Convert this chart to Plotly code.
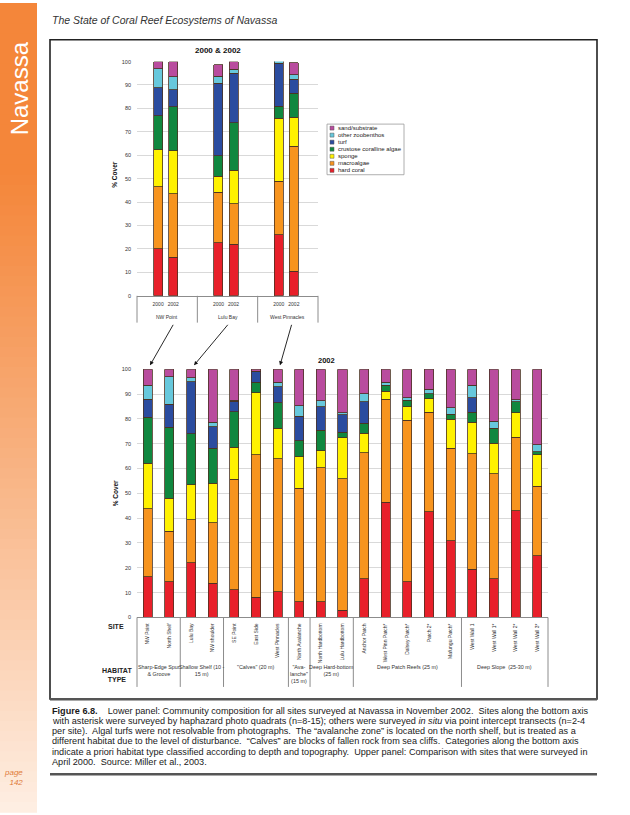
import plotly.graph_objects as go

W, H = 630, 815

# ---------------- data ----------------
categories = ["hard coral", "macroalgae", "sponge", "crustose coralline algae",
              "turf", "other zoobenthos", "sand/substrate"]
cat_colors = ["#E8202A", "#F7941E", "#FFF100", "#10873F", "#2B4C9F", "#67C8DC", "#B94C9E"]

# upper panel (2000 & 2002)
top_groups = ["NW Point", "Lulu Bay", "West Pinnacles"]
top_years = ["2000", "2002"]
# order: NW2000, NW2002, LB2000, LB2002, WP2000, WP2002
top_hard_coral = [20.0, 16.4, 22.7, 22.0, 26.0, 10.5]
top_macroalgae = [26.5, 27.2, 21.5, 17.2, 22.9, 53.4]
top_sponge = [15.8, 18.4, 6.9, 14.3, 27.0, 12.3]
top_cca = [14.6, 18.7, 8.7, 20.4, 5.1, 10.2]
top_turf = [12.0, 7.3, 31.0, 21.1, 18.2, 6.1]
top_other = [8.0, 5.5, 3.0, 1.7, 1.3, 1.8]
top_sand = [3.1, 6.5, 4.9, 3.3, 0.0, 5.3]

# lower panel (2002)
sites = ["NW Point", "North Shelf", "Lulu Bay", "NW shoulder", "SE Point", "East Side",
         "West Pinnacles", "North Avalanche", "North Hardbottom", "Lulu Hardbottom",
         "Anchor Patch", "West Pinn Patch*", "Dalsey Patch*", "Patch 2*", "Mafungu Patch*",
         "West Wall 1", "West Wall 1*", "West Wall 2*", "West Wall 3*"]
hard_coral = [16.4, 14.3, 22.0, 13.8, 11.2, 8.2, 10.4, 6.3, 6.3, 2.9, 15.5, 46.4, 14.4, 42.5, 31.0, 19.4, 15.6, 43.0, 24.9]
macroalgae = [27.5, 20.5, 17.3, 24.4, 44.4, 57.3, 53.5, 45.8, 54.1, 53.0, 50.9, 41.6, 65.1, 40.1, 37.2, 46.5, 42.3, 29.7, 28.0]
sponge = [18.3, 13.3, 14.2, 15.9, 13.0, 25.0, 12.3, 12.7, 6.7, 16.6, 7.8, 3.2, 5.4, 5.6, 11.6, 12.7, 12.3, 9.8, 12.6]
cca = [18.4, 28.5, 20.5, 14.1, 14.3, 4.2, 10.4, 6.5, 8.4, 2.1, 4.0, 2.4, 2.7, 2.0, 2.0, 4.0, 6.0, 4.4, 1.3]
turf = [7.4, 9.4, 21.0, 8.7, 4.3, 4.5, 6.3, 9.8, 9.4, 7.0, 8.7, 0, 0, 0, 0, 5.9, 0, 0, 0]
other_zoobenthos = [5.6, 11.0, 1.5, 1.8, 0.4, 0.1, 1.8, 4.2, 2.4, 0.9, 3.3, 1.1, 1.0, 1.8, 2.8, 5.1, 2.9, 0.9, 2.7]
sand = [6.4, 3.0, 3.5, 21.3, 12.4, 0.7, 5.3, 14.7, 12.7, 17.5, 9.8, 5.3, 11.4, 8.0, 15.4, 6.4, 20.9, 12.2, 30.5]

habitat_labels = ["Sharp-Edge Spur<br>&amp; Groove", "Shallow Shelf (10 -<br>15 m)", "\"Calves\" (20 m)",
                  "\"Ava-<br>lanche\"<br>(15 m)", "Deep Hard-bottom<br>(25 m)",
                  "Deep Patch Reefs (25 m)", "Deep Slope\u00a0 (25-30 m)"]
habitat_sizes = [2, 2, 3, 1, 2, 5, 4]

y_ticks = list(range(0, 101, 10))

caption_lines = [
    "<b>Figure 6.8.</b>\u00a0\u00a0\u00a0 Lower panel: Community composition for all sites surveyed at Navassa in November 2002.\u00a0 Sites along the bottom axis",
    "with asterisk were surveyed by haphazard photo quadrats (n=8-15); others were surveyed <i>in situ</i> via point intercept transects (n=2-4",
    "per site).\u00a0 Algal turfs were not resolvable from photographs.\u00a0 The \u201cavalanche zone\u201d is located on the north shelf, but is treated as a",
    "different habitat due to the level of disturbance.\u00a0 \u201cCalves\u201d are blocks of fallen rock from sea cliffs.\u00a0 Categories along the bottom axis",
    "indicate a priori habitat type classified according to depth and topography.\u00a0 Upper panel: Comparison with sites that were surveyed in",
    "April 2000.\u00a0 Source: Miller et al., 2003.",
]

# ---------------- helpers ----------------
def px(x):
    return x / W

def py(y):
    return 1 - y / H

FONT = "Liberation Sans, Arial, sans-serif"
OUT = "#4a3222"

def text(t, x, y, size, color="#222", xa="center", ya="middle", **kw):
    d = dict(text=t, xref="paper", yref="paper", x=px(x), y=py(y), xanchor=xa, yanchor=ya,
             showarrow=False, font=dict(size=size, color=color, family=FONT))
    d.update(kw)
    return d

fig = go.Figure()

top_series = [top_hard_coral, top_macroalgae, top_sponge, top_cca, top_turf, top_other, top_sand]
bot_series = [hard_coral, macroalgae, sponge, cca, turf, other_zoobenthos, sand]

top_x = [g * 4 + 1.4 + j for g in range(len(top_groups)) for j in range(len(top_years))]
top_ticktext = [yr for g in top_groups for yr in top_years]

for name, col, vals in zip(categories, cat_colors, top_series):
    fig.add_trace(go.Bar(x=top_x, y=[v if v > 0 else None for v in vals], name=name,
                         marker=dict(color=col, line=dict(color=OUT, width=0.8)),
                         width=0.6, xaxis="x", yaxis="y", showlegend=False))

for name, col, vals in zip(categories, cat_colors, bot_series):
    fig.add_trace(go.Bar(x=list(range(len(sites))), y=[v if v > 0 else None for v in vals], name=name,
                         marker=dict(color=col, line=dict(color=OUT, width=0.8)),
                         width=0.42, xaxis="x2", yaxis="y2", showlegend=False))

shapes = []
ann = []

# sidebar gradient
n_strips = 80
c0 = (244, 134, 58)
c1 = (254, 238, 226)
for i in range(n_strips):
    t = i / (n_strips - 1)
    tt = min(1.0, max(0.0, (t - 0.2) / 0.8)) ** 1.1
    c = tuple(int(round(a + (b - a) * tt)) for a, b in zip(c0, c1))
    shapes.append(dict(type="rect", xref="paper", yref="paper", x0=0, x1=px(37),
                       y0=py(H * (i + 1) / n_strips) - 0.001, y1=py(H * i / n_strips),
                       fillcolor="rgb(%d,%d,%d)" % c, line=dict(width=0), layer="below"))

# chart frame and rules
shapes.append(dict(type="rect", xref="paper", yref="paper", x0=px(50), x1=px(597), y0=py(701), y1=py(37),
                   line=dict(color="#222222", width=1.6), fillcolor="rgba(0,0,0,0)", layer="below"))
shapes.append(dict(type="line", xref="paper", yref="paper", x0=px(50), x1=px(597), y0=py(701.5), y1=py(701.5),
                   line=dict(color="#555555", width=2.5)))
shapes.append(dict(type="line", xref="paper", yref="paper", x0=px(50), x1=px(597), y0=py(777), y1=py(777),
                   line=dict(color="#555555", width=2.5)))

# top category dividers
for g in range(len(top_groups) + 1):
    if g == 0:
        d = dict(xref="x domain", x0=0, x1=0)
    elif g == len(top_groups):
        d = dict(xref="x domain", x0=1, x1=1)
    else:
        d = dict(xref="x", x0=g * 4, x1=g * 4)
    d.update(type="line", yref="paper", y0=py(295), y1=py(322), line=dict(color="#8c8c8c", width=1))
    shapes.append(d)

# bottom category dividers
bounds = [0]
for s in habitat_sizes:
    bounds.append(bounds[-1] + s)
for k, b in enumerate(bounds):
    if k == 0:
        d = dict(xref="x2 domain", x0=0, x1=0)
    elif k == len(bounds) - 1:
        d = dict(xref="x2 domain", x0=1, x1=1)
    else:
        d = dict(xref="x2", x0=b - 0.5, x1=b - 0.5)
    d.update(type="line", yref="paper", y0=py(619), y1=py(689), line=dict(color="#8c8c8c", width=1))
    shapes.append(d)

# custom legend
shapes.append(dict(type="rect", xref="paper", yref="paper", x0=px(327), x1=px(404), y0=py(173), y1=py(122),
                   line=dict(color="#9a9a9a", width=0.8), fillcolor="white"))
for k, (name, col) in enumerate(zip(categories[::-1], cat_colors[::-1])):
    yc = 126 + k * 7.1
    shapes.append(dict(type="rect", xref="paper", yref="paper", x0=px(330), x1=px(334),
                       y0=py(yc + 2), y1=py(yc - 2), fillcolor=col, line=dict(color="#555", width=0.5)))
    ann.append(text(name, 335.5, yc, 6, "#222", xa="left"))

# top group labels
for g, name in enumerate(top_groups):
    ann.append(dict(text=name, xref="x", yref="paper", x=g * 4 + 2, y=py(316), xanchor="center",
                    yanchor="middle", showarrow=False, font=dict(size=5, color="#333", family=FONT)))

# habitat labels
for k, lab in enumerate(habitat_labels):
    center = (bounds[k] + bounds[k + 1] - 1) / 2
    ann.append(dict(text=lab, xref="x2", yref="paper", x=center, y=py(664), xanchor="center",
                    yanchor="top", showarrow=False, font=dict(size=5.4, color="#333", family=FONT)))

# SITE / HABITAT TYPE
ann.append(text("<b>SITE</b>", 116, 628, 7, "#222"))
ann.append(text("<b>HABITAT<br>TYPE</b>", 117, 677, 7, "#222"))

# titles
ann.append(text("<b>2000 &amp; 2002</b>", 218, 48, 8, "#111"))
ann.append(text("<b>2002</b>", 326, 360, 7.5, "#111"))
for yc in (173, 494):
    ann.append(text("<b>% Cover</b>", 115, yc, 6.5, "#111", textangle=-90))

# arrows from upper panel to lower panel bars
for (hx, tx_, ty_) in [(150, 174, 323), (194, 229, 323), (280, 292, 323)]:
    ann.append(dict(text="", xref="paper", yref="paper", x=px(hx), y=py(365), ax=tx_ - hx, ay=ty_ - 365,
                    showarrow=True, arrowhead=2, arrowsize=0.9, arrowwidth=0.9, arrowcolor="#111", standoff=0))

# page header & sidebar texts
ann.append(text("<i>The State of Coral Reef Ecosystems of Navassa</i>", 50, 17, 10.5, "#333", xa="left"))
ann.append(text("Navassa", 19, 86, 24, "white", textangle=-90))
ann.append(text("<i>page<br>142</i>", 25, 780, 8, "#E07B39", xa="right", align="right"))

# caption
for i, line in enumerate(caption_lines):
    ann.append(text(line, 50, 713.3 + i * 10.2, 9.15, "#1a1a1a", xa="left"))

fig.update_layout(
    width=W, height=H, margin=dict(l=0, r=0, t=0, b=0),
    paper_bgcolor="white", plot_bgcolor="white",
    barmode="stack", showlegend=False,
    font=dict(family=FONT, color="#222"),
    xaxis=dict(domain=[px(137), px(318)], range=[0, 12], anchor="y", tickvals=top_x, ticktext=top_ticktext,
               tickfont=dict(size=5, color="#333"), showline=True, linecolor="#8c8c8c", linewidth=1,
               showgrid=False, zeroline=False, ticks="", ticklabelstandoff=3, fixedrange=True),
    yaxis=dict(domain=[py(295), py(59)], range=[0, 100], anchor="x", tickvals=y_ticks,
               tickfont=dict(size=5.5, color="#333"), showgrid=True, gridcolor="#d9d9d9", gridwidth=1,
               zeroline=False, showline=False, ticks="", ticklabelstandoff=5, fixedrange=True),
    xaxis2=dict(domain=[px(137), px(548)], range=[-0.5, len(sites) - 0.5], anchor="y2",
                tickvals=list(range(len(sites))), ticktext=sites, tickangle=-90,
                tickfont=dict(size=5, color="#333"), showline=True, linecolor="#8c8c8c", linewidth=1,
                showgrid=False, zeroline=False, ticks="", ticklabelstandoff=3, fixedrange=True),
    yaxis2=dict(domain=[py(619), py(369)], range=[0, 100], anchor="x2", tickvals=y_ticks,
                tickfont=dict(size=5.5, color="#333"), showgrid=True, gridcolor="#d9d9d9", gridwidth=1,
                zeroline=False, showline=False, ticks="", ticklabelstandoff=5, fixedrange=True),
    shapes=shapes, annotations=ann,
)

fig.write_html("out.html")
